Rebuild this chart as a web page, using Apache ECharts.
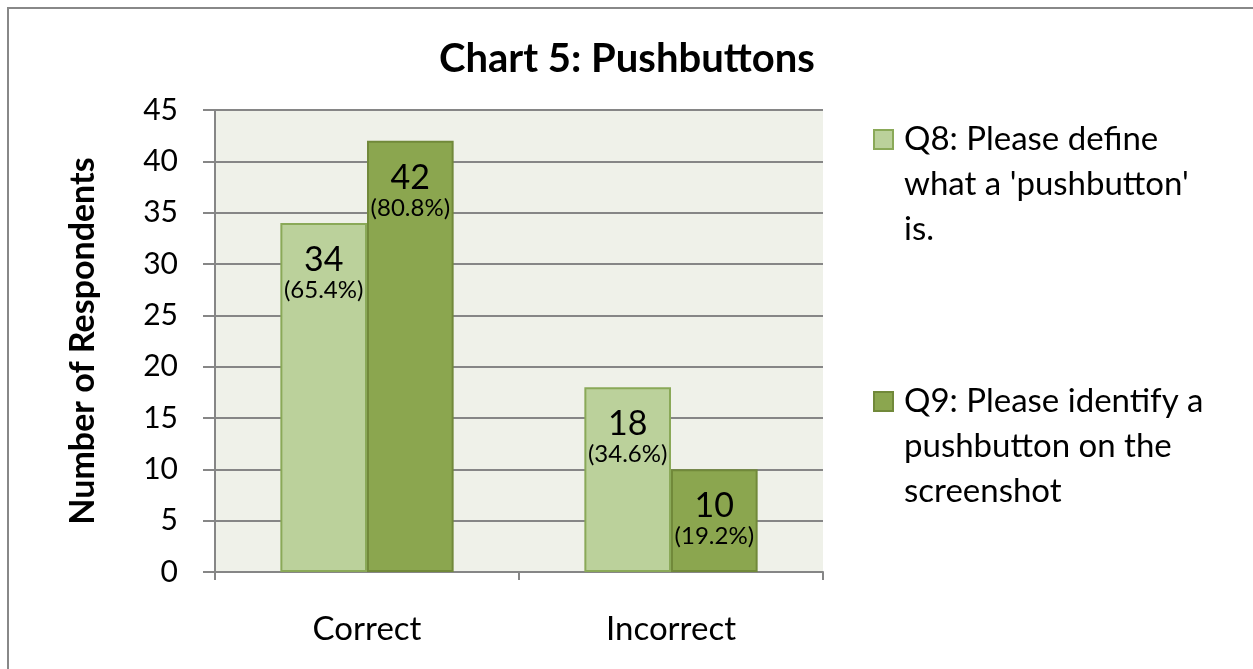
<!DOCTYPE html>
<html>
<head>
<meta charset="utf-8">
<script src="https://cdn.jsdelivr.net/npm/echarts@6/dist/echarts.min.js"></script>
<style>
  html, body { margin: 0; padding: 0; background: #fff; }
  #main { width: 1253px; height: 669px; }
</style>
</head>
<body>
<div id="main"></div>
<script>
// data
var categories = ["Correct", "Incorrect"];
var q8Values = [34, 18];
var q9Values = [42, 10];
var q8Pct = ["65.4%", "34.6%"];
var q9Pct = ["80.8%", "19.2%"];
var q8Name = "Q8: Please define\nwhat a 'pushbutton'\nis.";
var q9Name = "Q9: Please identify a\npushbutton on the\nscreenshot";

var font = "Lato, 'Open Sans', sans-serif";

function makeLabel(pcts) {
  return {
    show: true,
    position: "insideTop",
    distance: 20,
    fontFamily: font,
    color: "#000",
    formatter: function (p) {
      return "{a|" + p.value + "}\n{b|(" + pcts[p.dataIndex] + ")}";
    },
    rich: {
      a: { fontSize: 34, lineHeight: 34, fontFamily: font, color: "#000" },
      b: { fontSize: 24, lineHeight: 26, fontFamily: font, color: "#000" }
    }
  };
}

var myChart = echarts.init(document.getElementById("main"));
var option = {
  animation: false,
  title: {
    text: "Chart 5: Pushbuttons",
    left: 434,
    top: 34,
    textStyle: { fontFamily: font, fontSize: 40, fontWeight: "bold", color: "#000" }
  },
  graphic: [
    {
      type: "rect",
      shape: { x: 8, y: 8, width: 1300, height: 700 },
      style: { fill: "none", stroke: "#888", lineWidth: 2 },
      z: -10
    }
  ],
  legend: {
    orient: "vertical",
    left: 868,
    top: 22,
    itemGap: 37,
    itemWidth: 19,
    itemHeight: 19,
    icon: "rect",
    formatter: function (name) {
      return "\n\n" + name;
    },
    textStyle: { fontFamily: font, fontSize: 33, lineHeight: 45, color: "#000", padding: [0, 0, 0, 6] },
    data: [q8Name, q9Name]
  },
  grid: {
    left: 215,
    right: 430,
    top: 110,
    bottom: 97,
    show: true,
    backgroundColor: "#eff1e9",
    borderWidth: 0
  },
  xAxis: {
    type: "category",
    data: categories,
    axisLine: { lineStyle: { color: "#868686", width: 2 } },
    axisTick: { show: true, length: 8, lineStyle: { color: "#868686", width: 2 } },
    axisLabel: { margin: 41, fontFamily: font, fontSize: 33, color: "#000" }
  },
  yAxis: {
    type: "value",
    min: 0,
    max: 45,
    interval: 5,
    name: "Number of Respondents",
    nameLocation: "middle",
    nameGap: 115,
    nameTextStyle: { fontFamily: font, fontSize: 34, fontWeight: "bold", color: "#000" },
    axisLine: { show: true, lineStyle: { color: "#868686", width: 2 } },
    axisTick: { show: true, length: 12, lineStyle: { color: "#868686", width: 2 } },
    splitLine: { lineStyle: { color: "#868686", width: 2 } },
    axisLabel: { margin: 37, fontFamily: font, fontSize: 30, color: "#000" }
  },
  series: [
    {
      name: q8Name,
      type: "bar",
      data: q8Values,
      barGap: "0%",
      barCategoryGap: "43%",
      itemStyle: { color: "#bbd19b", borderColor: "#8aa958", borderWidth: 2 },
      label: makeLabel(q8Pct)
    },
    {
      name: q9Name,
      type: "bar",
      data: q9Values,
      itemStyle: { color: "#8ba64f", borderColor: "#71893a", borderWidth: 2 },
      label: makeLabel(q9Pct)
    }
  ]
};
option && myChart.setOption(option);
</script>
</body>
</html>
